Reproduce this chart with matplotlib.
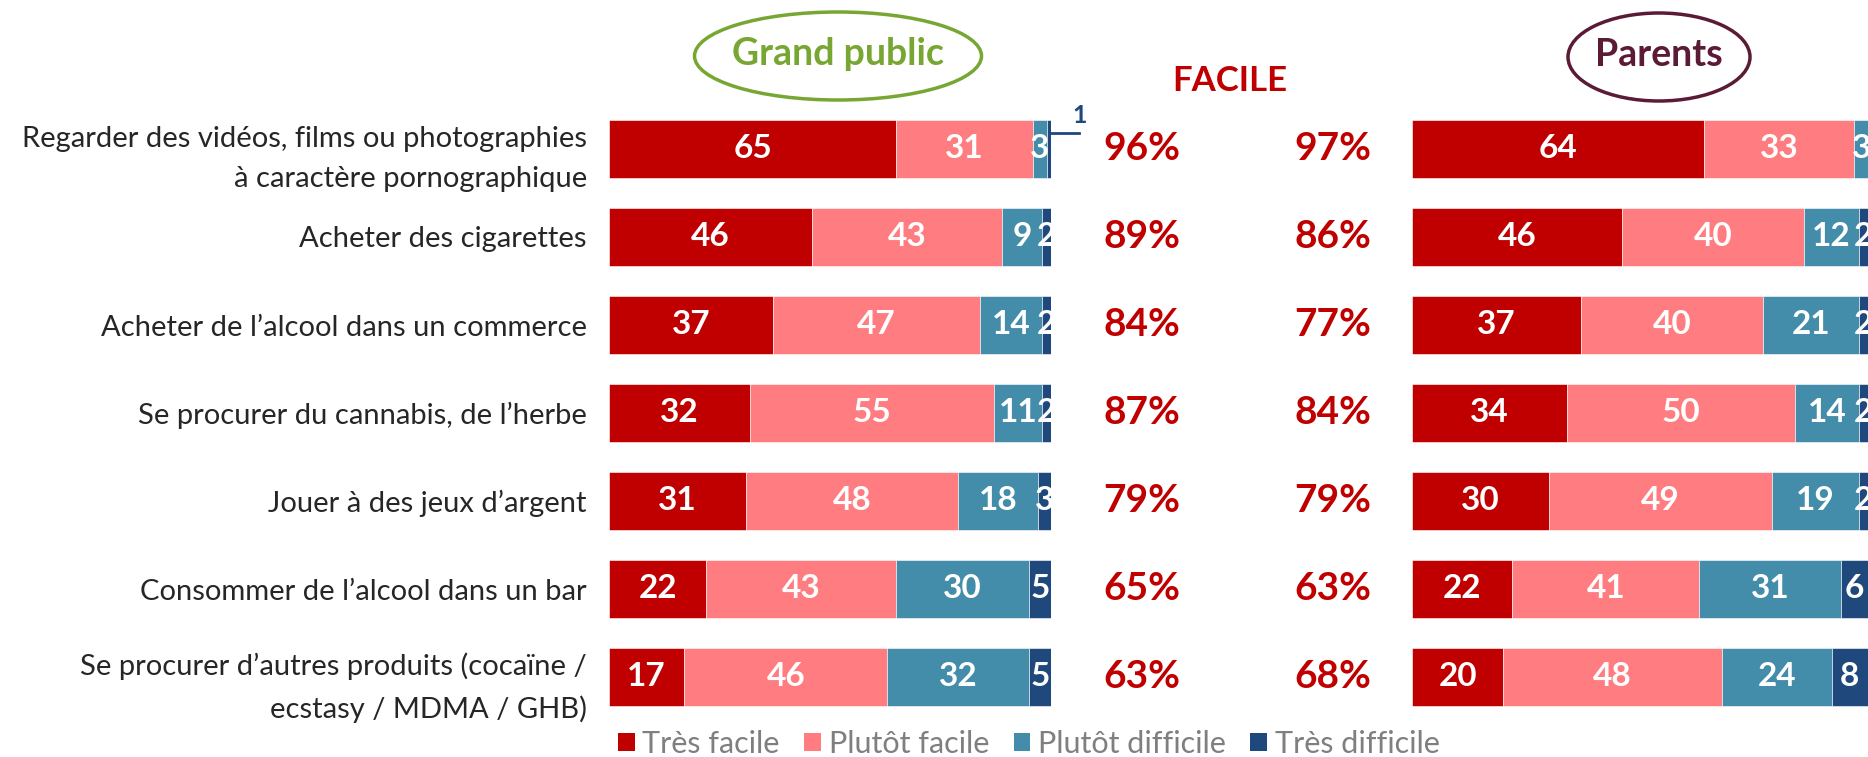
import numpy as np
import matplotlib
matplotlib.use('Agg')
import matplotlib.pyplot as plt
from matplotlib.patches import Ellipse, Patch
from matplotlib.transforms import blended_transform_factory

plt.rcParams['font.family'] = ['Lato', 'DejaVu Sans']

categories = ['Regarder des vidéos, films ou photographies\nà caractère pornographique',
              'Acheter des cigarettes',
              'Acheter de l\u2019alcool dans un commerce',
              'Se procurer du cannabis, de l\u2019herbe',
              'Jouer à des jeux d\u2019argent',
              'Consommer de l\u2019alcool dans un bar',
              'Se procurer d\u2019autres produits (cocaïne /\necstasy / MDMA / GHB)']
series = ['Très facile', 'Plutôt facile', 'Plutôt difficile', 'Très difficile']

# grand public
gp_tres_facile = [65, 46, 37, 32, 31, 22, 17]
gp_plutot_facile = [31, 43, 47, 55, 48, 43, 46]
gp_plutot_difficile = [3, 9, 14, 11, 18, 30, 32]
gp_tres_difficile = [1, 2, 2, 2, 3, 5, 5]

# parents
par_tres_facile = [64, 46, 37, 34, 30, 22, 20]
par_plutot_facile = [33, 40, 40, 50, 49, 41, 48]
par_plutot_difficile = [3, 12, 21, 14, 19, 31, 24]
par_tres_difficile = [0, 2, 2, 2, 2, 6, 8]

colors = ['#C00000', '#FF7C80', '#448DAA', '#1F497D']
red_txt = '#C00000'

W, H = 1868, 757
fig = plt.figure(figsize=(W / 100, H / 100), dpi=100)

top_px, bot_px = 105, 721
ax1 = fig.add_axes([609 / W, 1 - bot_px / H, 442 / W, (bot_px - top_px) / H])
ax2 = fig.add_axes([1412 / W, 1 - bot_px / H, 456 / W, (bot_px - top_px) / H])

y = np.arange(len(categories))


def draw_stack(ax, data, hide_small=False):
    left = np.zeros(len(y))
    for k, vals in enumerate(data):
        vals = np.array(vals, dtype=float)
        ax.barh(y, vals, left=left, height=0.66, color=colors[k],
                edgecolor='white', linewidth=0.4)
        for i, v in enumerate(vals):
            if v <= 0:
                continue
            if hide_small and k == 3 and v < 2:
                continue
            ax.text(left[i] + v / 2, i, '%d' % v, ha='center', va='center',
                    color='white', fontsize=24, fontweight='bold')
        left += vals
    ax.set_xlim(0, 100)
    ax.set_ylim(len(y) - 0.5, -0.5)
    for s in ax.spines.values():
        s.set_visible(False)
    ax.set_xticks([])
    return left


gp_data = [gp_tres_facile, gp_plutot_facile, gp_plutot_difficile, gp_tres_difficile]
par_data = [par_tres_facile, par_plutot_facile, par_plutot_difficile, par_tres_difficile]

gp_end = draw_stack(ax1, gp_data, hide_small=True)
draw_stack(ax2, par_data)

ax1.set_yticks(y)
ax1.set_yticklabels(categories, fontsize=21, color='#262626', linespacing=1.7)
ax1.tick_params(axis='y', length=0, pad=16)
ax2.set_yticks([])

# small value shown outside the first bar
ax1.plot([gp_end[0], gp_end[0] + 6.3], [-0.18, -0.18], color=colors[3], lw=2, clip_on=False)
ax1.text(gp_end[0] + 6.5, -0.38, '%d' % gp_tres_difficile[0], ha='center', va='center',
         color=colors[3], fontsize=18, fontweight='bold')

# totals "facile"
gp_total = np.array(gp_tres_facile) + np.array(gp_plutot_facile)
par_total = np.array(par_tres_facile) + np.array(par_plutot_facile)
tr1 = blended_transform_factory(ax1.transAxes, ax1.transData)
tr2 = blended_transform_factory(ax2.transAxes, ax2.transData)
for i in y:
    ax1.text(1.206, i, '%d%%' % gp_total[i], transform=tr1, ha='center', va='center',
             color=red_txt, fontsize=28, fontweight='bold')
    ax2.text(-0.173, i, '%d%%' % par_total[i], transform=tr2, ha='center', va='center',
             color=red_txt, fontsize=28, fontweight='bold')

fig.text(1230 / W, 1 - 81 / H, 'FACILE', ha='center', va='center', color=red_txt,
         fontsize=25, fontweight='bold')

# group titles in ellipses
green = '#77A632'
plum = '#5B1A36'
fig.patches.append(Ellipse((838 / W, 1 - 56 / H), 287 / W, 88 / H, transform=fig.transFigure,
                           fill=False, edgecolor=green, lw=2.5))
fig.text(838 / W, 1 - 54 / H, 'Grand public', ha='center', va='center', color=green,
         fontsize=27, fontweight='bold')
fig.patches.append(Ellipse((1659 / W, 1 - 57 / H), 182 / W, 88 / H, transform=fig.transFigure,
                           fill=False, edgecolor=plum, lw=2.5))
fig.text(1659 / W, 1 - 55 / H, 'Parents', ha='center', va='center', color=plum,
         fontsize=27, fontweight='bold')

# legend
handles = [Patch(facecolor=c, edgecolor='none') for c in colors]
leg = fig.legend(handles, series, loc='center left', bbox_to_anchor=(618 / W, 1 - 744 / H),
                 ncol=4, frameon=False, fontsize=22, handlelength=0.55, handleheight=0.55,
                 handletextpad=0.25, columnspacing=0.8, borderpad=0, borderaxespad=0)
for t in leg.get_texts():
    t.set_color('#7F7F7F')

fig.savefig('out.png', dpi=100)
